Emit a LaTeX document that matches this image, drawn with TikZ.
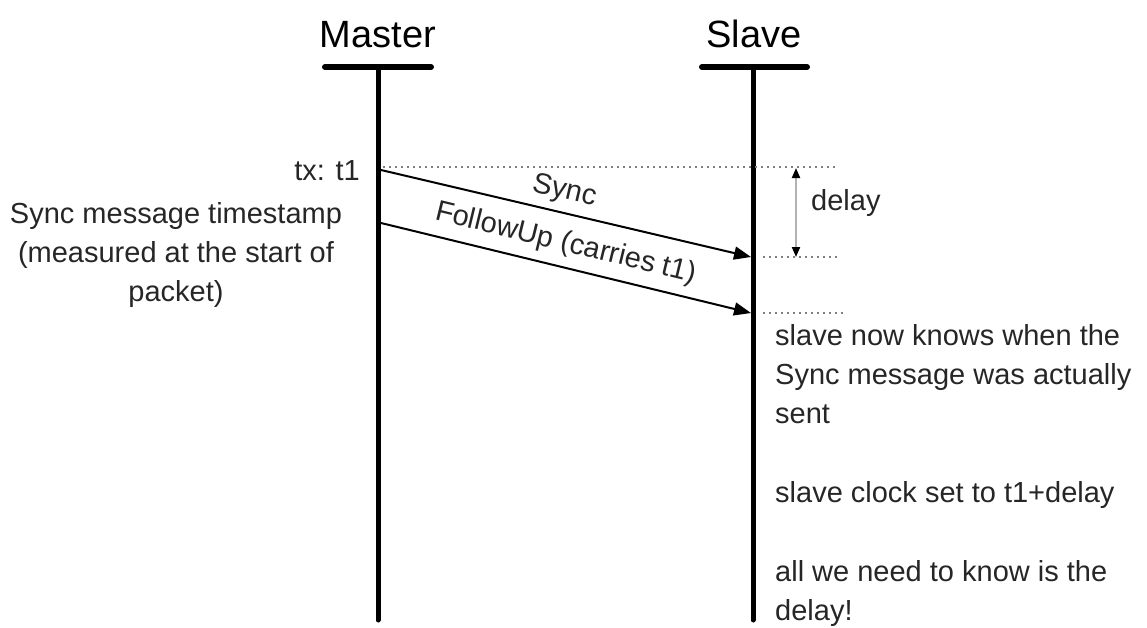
\documentclass[tikz,border=0pt]{standalone}
\usepackage{fontspec}
\setmainfont{Liberation Sans}
\usetikzlibrary{arrows.meta}
\begin{document}
\begin{tikzpicture}[x=1pt,y=-1pt,
  lifeline/.style={line width=5pt, line cap=round},
  headbar/.style={line width=6pt, line cap=round},
  msg/.style={line width=2pt, -{Triangle[length=17pt,width=13pt]}},
  guide/.style={line width=1.5pt, gray, dash pattern=on 2pt off 4pt},
  span/.style={line width=2pt, gray!60, {Triangle[length=10pt,width=8pt,color=black]}-{Triangle[length=10pt,width=8pt,color=black]}},
  lbl/.style={font=\fontsize{29}{39.3}\selectfont, text=black!85, inner sep=0pt},
  title/.style={font=\fontsize{38}{44}\selectfont, inner sep=0pt}]
\useasboundingbox (0,0) rectangle (1147,627);
% lifelines
\coordinate (mL) at (325,67);
\coordinate (mR) at (431,67);
\coordinate (mtop) at (378,67);
\coordinate (mbot) at (378,620);
\coordinate (sL) at (702,67);
\coordinate (sR) at (807,67);
\coordinate (stop) at (753,67);
\coordinate (sbot) at (753,620);
\node[title, anchor=base] (master) at (378,47) {Master};
\node[title, anchor=base] (slave) at (754,47) {Slave};
\draw[headbar] (mL) -- (mR);
\draw[headbar] (sL) -- (sR);
\draw[lifeline] (mtop) -- (mbot);
\draw[lifeline] (stop) -- (sbot);
% message points
\coordinate (m1) at (381,170);
\coordinate (s1) at (751,257);
\coordinate (m2) at (381,223);
\coordinate (s2) at (751,313);
% guides
\coordinate (g1a) at (383,167);
\coordinate (g1b) at (835,167);
\coordinate (g2a) at (763,257);
\coordinate (g2b) at (840,257);
\coordinate (g3a) at (763,313);
\coordinate (g3b) at (844,313);
\draw[guide] (g1a) -- (g1b);
\draw[guide] (g2a) -- (g2b);
\draw[guide] (g3a) -- (g3b);
% delay span
\coordinate (d1) at (796,168);
\coordinate (d2) at (796,257);
\draw[span] (d1) -- (d2);
\node[lbl, anchor=base west] (delay) at (811,210) {delay};
% messages
\draw[msg] (m1) -- node[lbl, sloped, above=7pt, xshift=-6pt] (sync) {Sync} (s1);
\draw[msg] (m2) -- node[lbl, sloped, above=9pt, xshift=-6pt] (fu) {FollowUp (carries t1)} (s2);
% left labels
\node[lbl, anchor=base east] (tx) at (360,180) {tx: t1};
\node[lbl, align=center, anchor=north] (stamp) at (176,202) {Sync message timestamp\\(measured at the start of\\packet)};
% right notes
\node[lbl, align=left, anchor=north west] (n1) at (775,324) {slave now knows when the\\Sync message was actually\\sent};
\node[lbl, anchor=base west] (n2) at (775,502) {slave clock set to t1+delay};
\node[lbl, align=left, anchor=north west] (n3) at (775,560) {all we need to know is the\\delay!};
\end{tikzpicture}
\end{document}
